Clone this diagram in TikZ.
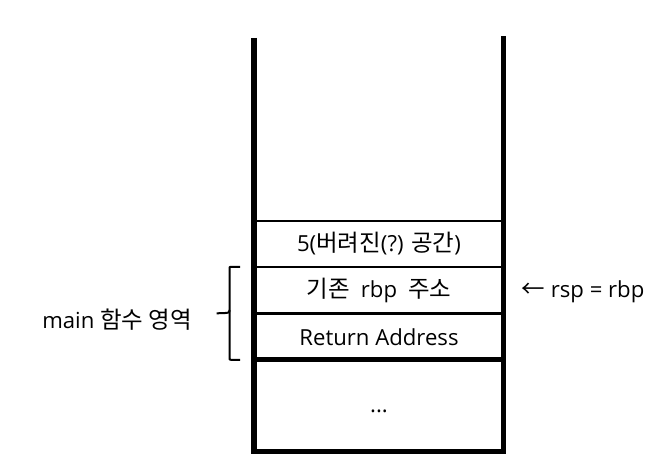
\documentclass[tikz,border=0pt]{standalone}
\usepackage{fontspec}
\setmainfont{Open Sans}
\newfontfamily\kr[Scale=1.06]{Noto Sans CJK KR}
\begin{document}
\begin{tikzpicture}[x=0.75pt,y=-0.75pt,
  lbl/.style={font=\fontsize{16.6}{19}\selectfont, inner sep=0pt, anchor=center},
  wall/.style={line width=4.1pt, line join=miter},
  sep/.style={line width=#1},
  brace/.style={line width=1.5pt, line join=round}]
\useasboundingbox (0,0) rectangle (659,466);
% walls
\coordinate (tl) at (254,38);
\coordinate (tr) at (503.5,36);
\coordinate (bl) at (254,451.5);
\coordinate (br) at (503.5,451.5);
\draw[wall] (tl) -- (bl) -- (br) -- (tr);
% separators
\coordinate (s1l) at (256,221); \coordinate (s1r) at (501,221);
\coordinate (s2l) at (256,267); \coordinate (s2r) at (501,267);
\coordinate (s3l) at (256,313.3); \coordinate (s3r) at (501,313.3);
\coordinate (s4l) at (256,359.5); \coordinate (s4r) at (501,359.5);
\draw[sep=1.5pt] (s1l) -- (s1r);
\draw[sep=1.6pt] (s2l) -- (s2r);
\draw[sep=2.2pt] (s3l) -- (s3r);
\draw[sep=3.2pt] (s4l) -- (s4r);
% cell labels
\node[lbl] (c1) at (379,244) {5({\kr 버려진}(?) {\kr 공간})};
\node[lbl] (c2) at (379,290) {{\kr 기존}\hspace{4pt} rbp\hspace{4pt} {\kr 주소}};
\node[lbl] (c3) at (379,337) {Return Address};
\node[lbl] (c4) at (379,411) {...};
% pointer label
\node[lbl] (ptr) at (583,292) {{\kr ←} rsp = rbp};
% brace
\coordinate (bt) at (240,266.8);
\coordinate (bb) at (240,359.8);
\coordinate (btip) at (216.7,313.3);
\draw[brace] (bt) -- (231,266.8) .. controls (229.5,266.8) .. (229.5,269)
  -- (229.5,310) .. controls (229.5,313) .. (btip);
\draw[brace] (229.5,310) .. controls (229.5,313.5) and (229.5,314) .. (229.5,317)
  -- (229.5,357.5) .. controls (229.5,359.8) .. (231,359.8) -- (bb);
\node[lbl] (main) at (117,320) {main {\kr 함수 영역}};
\end{tikzpicture}
\end{document}
